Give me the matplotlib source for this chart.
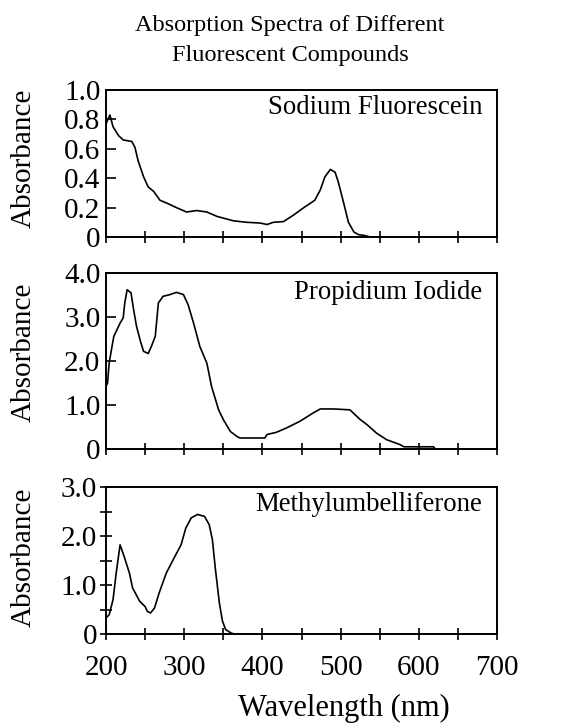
import numpy as np
import matplotlib
matplotlib.use("Agg")
from matplotlib import pyplot as plt

plt.rcParams['font.family'] = ['Liberation Serif', 'DejaVu Serif']

# Sodium Fluorescein
wl_sf = [200, 205, 209, 216, 222, 233, 237, 241, 248, 254, 261, 269, 278, 290,
         303, 316, 329, 342, 363, 380, 397, 406, 414, 427, 440, 453, 467, 474,
         480, 487, 493, 497, 504, 510, 517, 523, 531, 538, 600, 700]
ab_sf = [0.77, 0.83, 0.75, 0.69, 0.66, 0.65, 0.61, 0.52, 0.41, 0.34, 0.31, 0.25,
         0.23, 0.20, 0.17, 0.18, 0.17, 0.14, 0.11, 0.10, 0.095, 0.085, 0.10,
         0.105, 0.15, 0.20, 0.25, 0.32, 0.41, 0.46, 0.44, 0.375, 0.23, 0.10,
         0.034, 0.016, 0.01, 0.0, 0.0, 0.0]

# Propidium Iodide
wl_pi = [200, 202, 204, 207, 210, 214, 218, 222, 224, 227, 232, 235, 239, 244,
         248, 254, 258, 263, 267, 273, 282, 290, 299, 305, 312, 320, 329, 335,
         344, 350, 359, 367, 371, 403, 406, 418, 431, 448, 465, 474, 491, 512,
         525, 534, 546, 559, 576, 581, 619, 621]
ab_pi = [1.42, 1.5, 1.95, 2.26, 2.56, 2.71, 2.86, 2.98, 3.32, 3.62, 3.55, 3.2,
         2.79, 2.45, 2.22, 2.17, 2.33, 2.56, 3.32, 3.47, 3.51, 3.56, 3.51, 3.28,
         2.86, 2.33, 1.95, 1.42, 0.89, 0.67, 0.40, 0.29, 0.25, 0.25, 0.33, 0.38,
         0.48, 0.63, 0.82, 0.91, 0.91, 0.89, 0.67, 0.55, 0.36, 0.21, 0.10, 0.05,
         0.05, 0.0]

# Methylumbelliferone
wl_mu = [200, 204, 209, 213, 218, 223, 230, 234, 243, 250, 253, 257, 262, 268,
         277, 287, 296, 302, 309, 317, 326, 332, 336, 340, 345, 349, 353, 360, 364]
ab_mu = [0.33, 0.39, 0.70, 1.24, 1.82, 1.59, 1.24, 0.94, 0.67, 0.56, 0.46, 0.43,
         0.53, 0.84, 1.24, 1.55, 1.82, 2.16, 2.37, 2.44, 2.40, 2.23, 1.93, 1.31,
         0.63, 0.26, 0.09, 0.02, 0.0]

names = ['Sodium Fluorescein', 'Propidium Iodide', 'Methylumbelliferone']
xticks = [200, 300, 400, 500, 600, 700]

fig = plt.figure(figsize=(5.69, 7.24), dpi=100)
W = 569.0
H = 724.0
left = 106 / W
width = (497 - 106) / W
# (top, bottom) in pixels
boxes = [(90, 237), (273, 449), (487, 634)]
ylab_y = [158, 352, 557]
axs = []
for top, bot in boxes:
    ax = fig.add_axes([left, 1 - bot / H, width, (bot - top) / H])
    axs.append(ax)

data = [(wl_sf, ab_sf), (wl_pi, ab_pi), (wl_mu, ab_mu)]
ylims = [1.0, 4.0, 3.0]
textpos = [0.878, 0.892, 0.878]
for i, ax in enumerate(axs):
    ax.plot(data[i][0], data[i][1], color='black', lw=1.2)
    ax.set_xlim(200, 700)
    ax.set_ylim(0, ylims[i])
    ax.set_xticks(np.arange(200, 701, 50))
    for s in ax.spines.values():
        s.set_linewidth(1.4)
    ax.tick_params(axis='x', direction='inout', length=8, width=1.2,
                   labelsize=21, pad=11)
    ax.tick_params(axis='y', direction='in', length=7, width=1.2,
                   labelsize=21, pad=4)
    fig.text(24 / W, 1 - ylab_y[i] / H, 'Absorbance', rotation=90,
             ha='center', va='center', fontsize=21)
    ax.text(0.962, textpos[i], names[i], transform=ax.transAxes,
            ha='right', va='center', fontsize=19.3)
    if i < 2:
        ax.set_xticklabels([])

axs[0].set_yticks([0, 0.2, 0.4, 0.6, 0.8, 1.0])
axs[0].set_yticklabels(['0', '0.2', '0.4', '0.6', '0.8', '1.0'])
axs[1].set_yticks([0, 1, 2, 3, 4])
axs[1].set_yticklabels(['0', '1.0', '2.0', '3.0', '4.0'])
axs[2].set_yticks(np.arange(0, 3.01, 0.5))
axs[2].set_yticklabels(['0', '', '1.0', '', '2.0', '', '3.0'])
axs[2].tick_params(axis='y', direction='inout', length=9, pad=2)

xlabs = []
for t in np.arange(200, 701, 50):
    xlabs.append(str(t) if t in xticks else '')
axs[2].set_xticklabels(xlabs)

fig.text(290 / W, 1 - 25 / H, 'Absorption Spectra of Different',
         ha='center', va='center', fontsize=17.5)
fig.text(290 / W, 1 - 55 / H, 'Fluorescent Compounds',
         ha='center', va='center', fontsize=17.5)
fig.text(344 / W, 1 - 708 / H, 'Wavelength (nm)', ha='center', va='center',
         fontsize=22)

fig.savefig('out.png', dpi=100)
